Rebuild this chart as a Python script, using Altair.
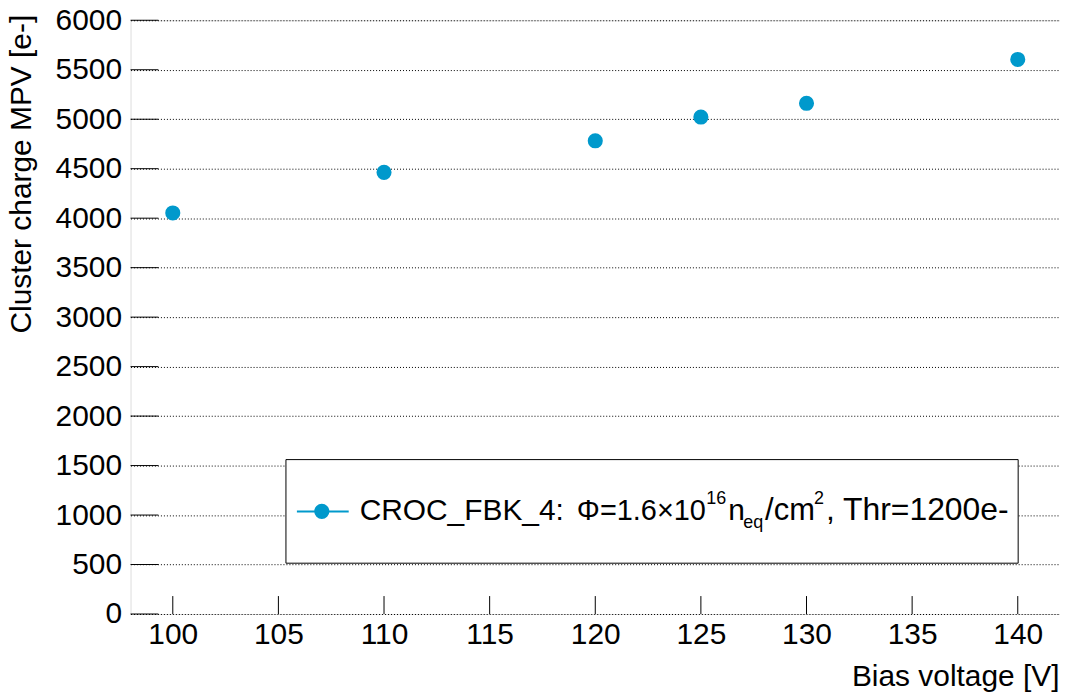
import altair as alt
import pandas as pd

# Data
bias_voltage = [100, 110, 120, 125, 130, 140]
cluster_mpv = [4053, 4463, 4782, 5022, 5161, 5604]
x_ticks = [100, 105, 110, 115, 120, 125, 130, 135, 140]
y_ticks = [0, 500, 1000, 1500, 2000, 2500, 3000, 3500, 4000, 4500, 5000, 5500, 6000]
legend_name = "CROC_FBK_4:"
legend_phi = "Φ=1.6×10"
legend_sup1 = "16"
legend_n = "n"
legend_sub = "eq"
legend_cm = "/cm"
legend_sup2 = "2"
legend_tail = ", Thr=1200e-"

COLOR = "#0099CC"
FONT = "Liberation Sans"
FS = 30
LEFT, TOP = 131, 19
W, H = 933, 596

df = pd.DataFrame({"v": bias_voltage, "q": cluster_mpv})
one = pd.DataFrame({"d": [0]})

xs = alt.Scale(domain=[98, 142], nice=False, zero=False)
ys = alt.Scale(domain=[0, 6000], nice=False, zero=True)

points = alt.Chart(df).mark_point(filled=True, shape="circle", size=230, opacity=1, color=COLOR).encode(
    x=alt.X("v:Q", scale=xs, axis=alt.Axis(
        title="Bias voltage [V]", values=x_ticks, format="d", grid=False, ticks=False, tickSize=0, domain=False,
        labelFontSize=FS, labelFont=FONT, labelColor="black", labelPadding=30, labelBaseline="alphabetic",
        titleFontSize=FS, titleFont=FONT, titleFontWeight="normal", titleColor="black",
        titleX=932, titleY=72, titleAlign="right", titleBaseline="alphabetic", titleAngle=0)),
    y=alt.Y("q:Q", scale=ys, axis=alt.Axis(
        title="Cluster charge MPV [e-]", values=y_ticks, format="d", grid=True, gridColor="black",
        gridDash=[1, 2], gridWidth=1, ticks=False, tickSize=0, domain=False,
        labelFontSize=FS, labelFont=FONT, labelColor="black", labelPadding=9,
        titleFontSize=FS, titleFont=FONT, titleFontWeight="normal", titleColor="black",
        titleX=-100, titleY=-6, titleAlign="right", titleBaseline="alphabetic", titleAngle=270)),
)

ytick_rules = alt.Chart(pd.DataFrame({"t": y_ticks})).mark_rule(color="black", strokeWidth=1).encode(
    y=alt.Y("t:Q", scale=ys), x=alt.value(0), x2=alt.value(28))
xtick_rules = alt.Chart(pd.DataFrame({"t": x_ticks})).mark_rule(color="black", strokeWidth=1).encode(
    x=alt.X("t:Q", scale=xs), y=alt.value(H), y2=alt.value(H - 18))

legend_box = alt.Chart(one).mark_rect(fill="white", stroke="black", strokeWidth=1).encode(
    x=alt.value(287 - LEFT), x2=alt.value(1022 - LEFT), y=alt.value(460 - TOP), y2=alt.value(564 - TOP))
legend_line = alt.Chart(one).mark_rule(color=COLOR, strokeWidth=2).encode(
    x=alt.value(298 - LEFT), x2=alt.value(350 - LEFT), y=alt.value(512 - TOP))
legend_dot = alt.Chart(one).mark_point(filled=True, shape="circle", size=230, opacity=1, color=COLOR).encode(
    x=alt.value(323 - LEFT), y=alt.value(512 - TOP))


def txt(s, x, y, size, align="left"):
    return alt.Chart(one).mark_text(text=s, font=FONT, fontSize=size, color="black",
                                    align=align, baseline="alphabetic").encode(
        x=alt.value(x - LEFT), y=alt.value(y - TOP))


legend_texts = [
    txt(legend_name, 361, 521, 30),
    txt(legend_phi, 579, 521, 29),
    txt(legend_sup1, 709, 505, 18),
    txt(legend_n, 731, 521, 30),
    txt(legend_sub, 746, 529, 18),
    txt(legend_cm, 768, 521, 31),
    txt(legend_sup2, 817, 505, 18),
    txt(legend_tail, 829, 521, 32),
]

chart = alt.layer(points, ytick_rules, xtick_rules, legend_box, legend_line, legend_dot, *legend_texts).properties(
    width=W, height=H,
    autosize=alt.AutoSizeParams(type="none"),
    padding={"left": LEFT - 8, "top": TOP - 8, "right": 0, "bottom": 698 - TOP - H},
).configure_view(stroke="black", strokeWidth=1).configure(background="white")

chart.save("out.html", embed_options={"renderer": "svg", "actions": False})
